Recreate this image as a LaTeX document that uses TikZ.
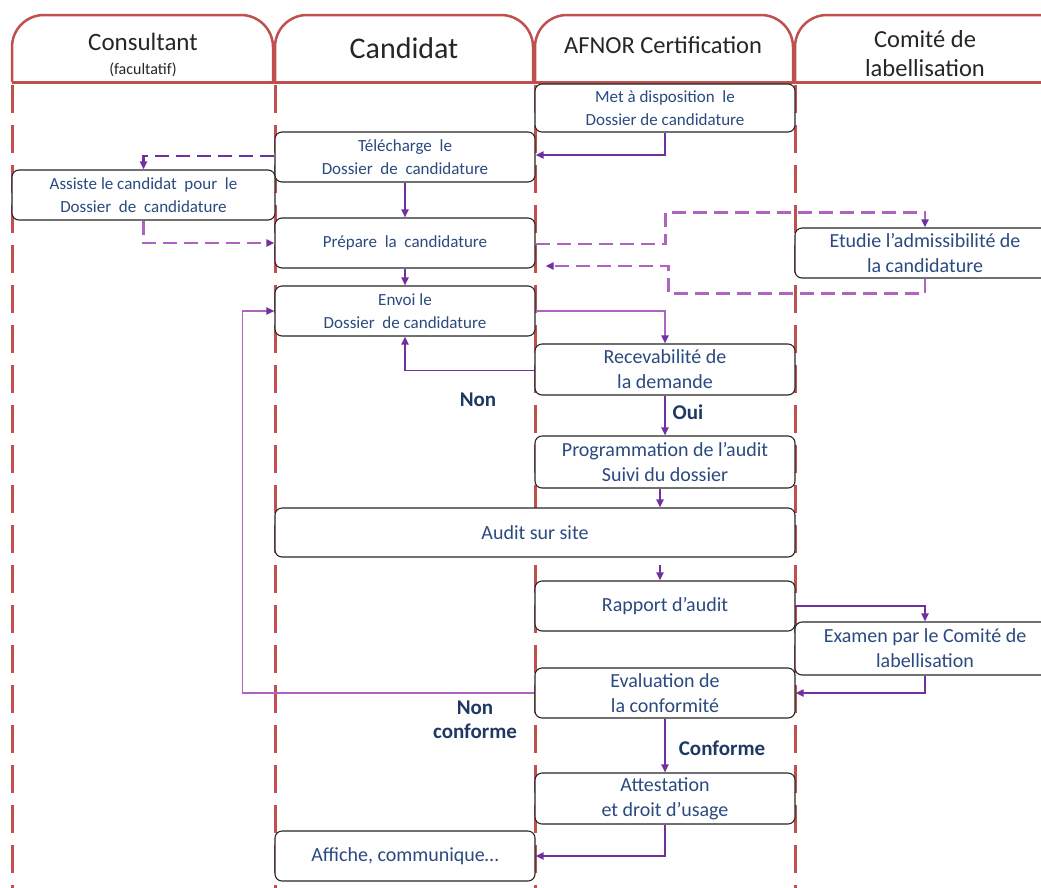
\documentclass[tikz,border=0pt]{standalone}
\usepackage{fontspec}
\setmainfont{Carlito}
\usetikzlibrary{arrows.meta}
\definecolor{lanered}{HTML}{C0504D}
\definecolor{arrpurple}{HTML}{7030A0}
\definecolor{arrlight}{HTML}{B062C0}
\definecolor{txtblue}{HTML}{2A4A80}
\definecolor{lblblue}{HTML}{1F3864}
\begin{document}
\begin{tikzpicture}[x=1pt,y=-1pt,
  lane/.style={lanered, line width=3pt, dash pattern=on 28pt off 12pt},
  hdr/.style={lanered, line width=2.5pt, rounded corners=32pt},
  htxt/.style={text=black!85, inner sep=0pt, align=center},
  box/.style={draw=black!85, line width=1.1pt, rounded corners=7pt, fill=white, text=txtblue, align=center, inner sep=0pt, minimum width=260pt, minimum height=50pt},
  bt/.style={font=\fontsize{20}{25}\selectfont},
  st/.style={font=\fontsize{17}{23}\selectfont},
  arr/.style={arrpurple, line width=1.8pt, -{Triangle[length=8pt,width=7pt]}},
  arrl/.style={arrlight, line width=1.8pt, -{Triangle[length=8pt,width=7pt,color=arrpurple]}},
  dsh/.style={line width=2.3pt, dash pattern=on 14pt off 7pt},
  lbl/.style={text=lblblue, font=\fontsize{21}{24}\selectfont\bfseries, align=center, inner sep=0pt}
]
\useasboundingbox (0,0) rectangle (1041,887);
\clip (0,0) rectangle (1041,887);
\fill[white] (0,0) rectangle (1041,887);

% header
\draw[hdr] (12,82) -- (12,15) -- (273,15) -- (273,82);
\draw[hdr] (275,82) -- (275,15) -- (533,15) -- (533,82);
\draw[hdr] (535,82) -- (535,15) -- (793,15) -- (793,82);
\draw[hdr] (795,82) -- (795,15) -- (1080,15) -- (1080,82);
\draw[lanered, line width=3pt] (12,82) -- (1041,82);
\node[htxt, font=\fontsize{25}{28}\selectfont] (hcons) at (143,42) {Consultant};
\node[htxt, font=\fontsize{16}{18}\selectfont] (hfac) at (143,70) {(facultatif)};
\node[htxt, font=\fontsize{30}{32}\selectfont] (hcand) at (404,48) {Candidat};
\node[htxt, font=\fontsize{24.5}{28}\selectfont] (hafnor) at (663,45) {AFNOR Certification};
\node[htxt, font=\fontsize{24.5}{28}\selectfont] (hcom) at (925,54) {Comité de\\[1pt]labellisation};

% lanes
\foreach \x in {12,275,535,795} \draw[lane] (\x,85) -- (\x,900);

% boxes
\node[box, st, minimum height=48pt] (b1) at (665,108) {Met à disposition\ \ le\\Dossier\ de\ candidature};
\node[box, st] (b2) at (405,157) {Télécharge\ \ le\\Dossier\ \ de\ \ candidature};
\node[box, st, minimum width=263pt] (b3) at (143.5,195) {Assiste\ le\ candidat\ \ pour\ \ le\\Dossier\ \ de\ \ candidature};
\node[box, st] (b4) at (405,243) {Prépare\ \ la\ \ candidature};
\node[box, bt] (b5) at (925,253) {Etudie l’admissibilité de\\la candidature};
\node[box, st] (b6) at (405,311) {Envoi le\\Dossier\ \ de\ candidature};
\node[box, bt, minimum height=51pt] (b7) at (665,369.5) {Recevabilité de\\la demande};
\node[box, bt, minimum height=52pt] (b8) at (665,462) {Programmation de l’audit\\Suivi du dossier};
\node[box, bt, minimum width=520pt, minimum height=49pt] (b9) at (535,532.5) {Audit sur site};
\node[box, bt] (b10) at (665,606) {Rapport d’audit};
\node[box, bt, minimum height=53pt] (b11) at (925,648.5) {Examen par le Comité de\\labellisation};
\node[box, bt] (b12) at (665,693) {Evaluation de\\la conformité};
\node[box, bt, minimum height=51pt] (b13) at (665,798.5) {Attestation\\et droit d’usage};
\node[box, bt] (b14) at (405,856) {Affiche, communique…};

% labels
\node[lbl] (lnon) at (478,400) {Non};
\node[lbl] (loui) at (688,412) {Oui};
\node[lbl] (lnonc) at (475,720) {Non\\conforme};
\node[lbl] (lconf) at (722,748) {Conforme};

% connectors
\draw[arr] (b1.south) |- ([yshift=2pt]b2.east);
\draw[arr, dsh] ([yshift=1pt]b2.west) -| (b3.north);
\draw[arr] (b2.south) -- (b4.north);
\draw[arrl, dsh] (b3.south) |- (b4.west);
\draw[arr] (b4.south) -- (b6.north);
\draw[arrl, dsh] ([yshift=-1pt]b4.east) -- ++(130,0) |- ([yshift=15pt]b5.north) -- (b5.north);
\draw[arrl, dsh] (b5.south) -- ++(0,15) -| ([xshift=133pt,yshift=-23pt]b4.east) -- ([xshift=10pt,yshift=-23pt]b4.east);
\draw[arrl] (b6.east) -| (b7.north);
\draw[arr] ([yshift=-1pt]b7.west) -| (b6.south);
\draw[arr] (b7.south) -- (b8.north);
\draw[arr] ([xshift=-5pt]b8.south) -- ([xshift=-5pt]b8.south |- b9.north);
\draw[arr] ([xshift=-5pt,yshift=-7pt]b10.north |- b9.south) -- ([xshift=-5pt]b10.north);
\draw[arr] (b10.east) -| (b11.north);
\draw[arr] (b11.south) |- (b12.east);
\draw[arrl] (b12.west) -| ([xshift=-32pt]b6.west) -- (b6.west);
\draw[arr] (b12.south) -- (b13.north);
\draw[arr] (b13.south) |- (b14.east);
\end{tikzpicture}
\end{document}
